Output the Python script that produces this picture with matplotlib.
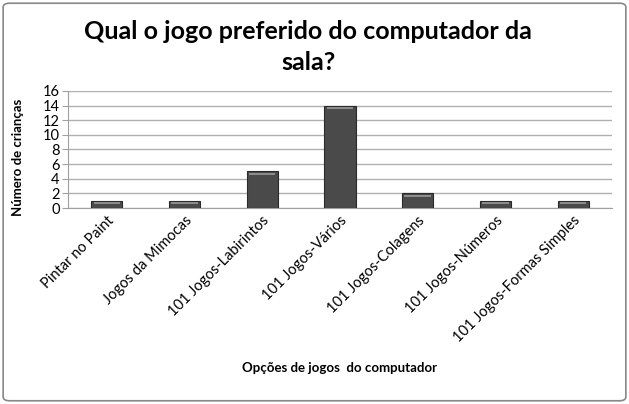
import matplotlib.pyplot as plt
from matplotlib.patches import FancyBboxPatch

categorias = ["Pintar no Paint", "Jogos da Mimocas", "101 Jogos-Labirintos",
              "101 Jogos-Vários", "101 Jogos-Colagens", "101 Jogos-Números",
              "101 Jogos-Formas Simples"]
criancas = [1, 1, 5, 14, 2, 1, 1]
yticks = [0, 2, 4, 6, 8, 10, 12, 14, 16]

plt.rcParams['font.family'] = ['Lato', 'DejaVu Sans']

fig = plt.figure(figsize=(6.29, 4.04), dpi=100)
ax = fig.add_axes([0.108, 0.485, 0.865, 0.29])

x = range(len(categorias))
ax.bar(x, criancas, width=0.4, color='#4a4a4a', edgecolor='#2a2a2a',
       linewidth=0.8, zorder=3)
# light bevel line near the top of each bar
for xi, v in zip(x, criancas):
    ax.plot([xi - 0.17, xi + 0.17], [v - 0.35, v - 0.35], color='#9a9a9a',
            lw=1.2, zorder=4, solid_capstyle='butt')

ax.set_ylim(0, 16)
ax.set_xlim(-0.5, len(categorias) - 0.5)
ax.set_yticks(yticks)
ax.yaxis.grid(True, color='#b0b0b0', lw=1)
ax.set_axisbelow(True)
for s in ['top', 'right']:
    ax.spines[s].set_visible(False)
ax.spines['left'].set_color('#a0a0a0')
ax.spines['bottom'].set_color('#a0a0a0')
ax.tick_params(axis='y', length=4, color='#a0a0a0', labelsize=10.5, pad=2)
ax.tick_params(axis='x', length=0, labelsize=10.5, pad=4)
ax.set_xticks(list(x))
ax.set_xticklabels(categorias, rotation=45, ha='right', rotation_mode='anchor')

fig.text(0.029, 0.611, "Número de crianças", fontsize=9.5, fontweight='bold',
         rotation=90, ha='center', va='center')
fig.text(0.54, 0.088, "Opções de jogos  do computador", fontsize=9.5,
         fontweight='bold', ha='center', va='center')
fig.text(0.49, 0.884, "Qual o jogo preferido do computador da\nsala?",
         fontsize=18, fontweight='bold', ha='center', va='center',
         linespacing=1.45)

fig.patches.append(FancyBboxPatch((0.005, 0.008), 0.99, 0.984,
                                  boxstyle="round,pad=0,rounding_size=0.01",
                                  transform=fig.transFigure, fill=False,
                                  edgecolor='#888888', lw=1.2))

fig.savefig("out.png", dpi=100)
